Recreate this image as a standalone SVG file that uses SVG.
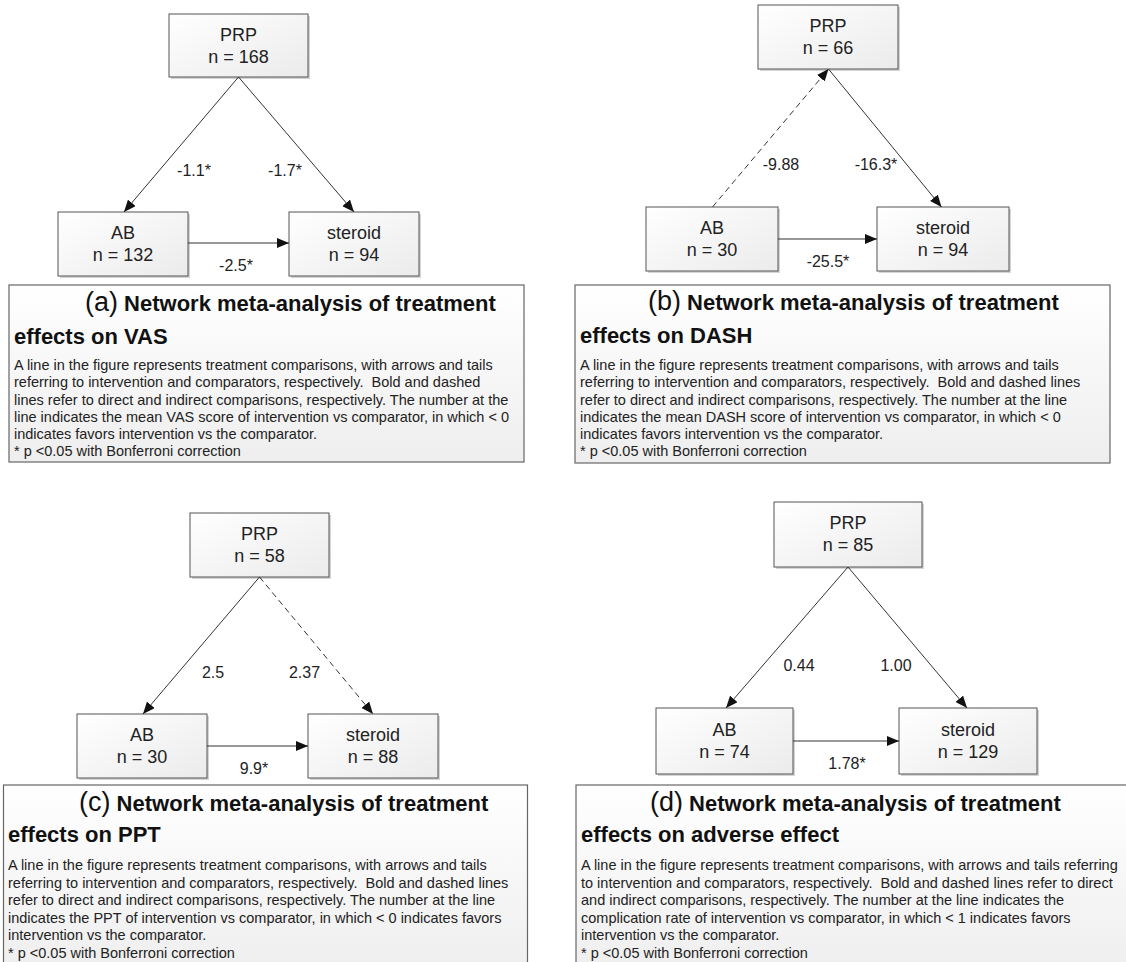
<svg xmlns="http://www.w3.org/2000/svg" width="1126" height="962" viewBox="0 0 1126 962">
<defs>
<linearGradient id="nodeFill" x1="0" y1="0" x2="1" y2="1">
<stop offset="0" stop-color="#ffffff"/>
<stop offset="1" stop-color="#ebebeb"/>
</linearGradient>
<linearGradient id="capFill" x1="0" y1="0" x2="0" y2="1">
<stop offset="0" stop-color="#ffffff"/>
<stop offset="1" stop-color="#eeeeee"/>
</linearGradient>
<marker id="arr" viewBox="0 0 12 10" refX="12" refY="5" markerWidth="12" markerHeight="10" markerUnits="userSpaceOnUse" orient="auto">
<path d="M0,0 L12,5 L0,10 Z" fill="#111"/>
</marker>
</defs>
<style>
.bg{fill:#ffffff}
.shadow{fill:#d4d4d4}
.node{fill:url(#nodeFill);stroke:#555;stroke-width:1}
.cap{fill:url(#capFill);stroke:#666;stroke-width:1.2}
.nt{font-family:"Liberation Sans",Arial,sans-serif;font-size:18px;fill:#222;text-anchor:middle}
.el{font-family:"Liberation Sans",Arial,sans-serif;font-size:16px;fill:#222;text-anchor:middle}
.e{stroke:#333;stroke-width:1;fill:none;marker-end:url(#arr)}
.d{stroke-dasharray:6,4}
.lab{font-family:"Liberation Sans",Arial,sans-serif;font-size:27px;fill:#111}
.tt{font-family:"Liberation Sans",Arial,sans-serif;font-size:22px;font-weight:bold;fill:#111}
.bd{font-family:"Liberation Sans",Arial,sans-serif;font-size:14.5px;fill:#222;white-space:pre}
</style>
<rect class="bg" x="0" y="0" width="1126" height="962"/>

<!-- Panel a -->
<g id="a-PRP"><rect class="shadow" x="171" y="16" width="139" height="63"/><rect class="node" x="169" y="14" width="139" height="63"/><text class="nt" x="238.5" y="41">PRP</text><text class="nt" x="238.5" y="63">n = 168</text></g>
<g id="a-AB"><rect class="shadow" x="60" y="214" width="130" height="64"/><rect class="node" x="58" y="212" width="130" height="64"/><text class="nt" x="123" y="239">AB</text><text class="nt" x="123" y="261">n = 132</text></g>
<g id="a-steroid"><rect class="shadow" x="291" y="214" width="130" height="64"/><rect class="node" x="289" y="212" width="130" height="64"/><text class="nt" x="354" y="239">steroid</text><text class="nt" x="354" y="261">n = 94</text></g>
<g id="a-edges">
<line class="e" x1="238.5" y1="77" x2="124" y2="212"/>
<line class="e" x1="238.5" y1="77" x2="354" y2="212"/>
<line class="e" x1="188" y1="243" x2="289" y2="243"/>
<text class="el" x="194" y="176">-1.1*</text>
<text class="el" x="285" y="176">-1.7*</text>
<text class="el" x="236" y="271">-2.5*</text>
</g>
<g id="a-caption">
<rect class="cap" x="9" y="285" width="515" height="177"/>
<text x="85" y="311"><tspan class="lab">(a)</tspan><tspan class="tt"> Network meta-analysis of treatment</tspan></text>
<text class="tt" x="14" y="344">effects on VAS</text>
<text class="bd" x="14" y="370">A line in the figure represents treatment comparisons, with arrows and tails</text>
<text class="bd" x="14" y="387.3">referring to intervention and comparators, respectively.  Bold and dashed</text>
<text class="bd" x="14" y="404.6">lines refer to direct and indirect comparisons, respectively. The number at the</text>
<text class="bd" x="14" y="421.9">line indicates the mean VAS score of intervention vs comparator, in which &lt; 0</text>
<text class="bd" x="14" y="439.2">indicates favors intervention vs the comparator.</text>
<text class="bd" x="14" y="456">* p &lt;0.05 with Bonferroni correction</text>
</g>

<!-- Panel b -->
<g id="b-PRP"><rect class="shadow" x="760" y="7" width="140" height="64"/><rect class="node" x="758" y="5" width="140" height="64"/><text class="nt" x="828" y="32">PRP</text><text class="nt" x="828" y="54">n = 66</text></g>
<g id="b-AB"><rect class="shadow" x="648" y="209" width="132" height="64"/><rect class="node" x="646" y="207" width="132" height="64"/><text class="nt" x="712" y="234">AB</text><text class="nt" x="712" y="256">n = 30</text></g>
<g id="b-steroid"><rect class="shadow" x="879" y="209" width="132" height="64"/><rect class="node" x="877" y="207" width="132" height="64"/><text class="nt" x="943" y="234">steroid</text><text class="nt" x="943" y="256">n = 94</text></g>
<g id="b-edges">
<line class="e d" x1="712.5" y1="207" x2="828.5" y2="69"/>
<line class="e" x1="828.5" y1="69" x2="941.5" y2="207"/>
<line class="e" x1="778" y1="239" x2="877" y2="239"/>
<text class="el" x="781" y="170">-9.88</text>
<text class="el" x="876" y="170">-16.3*</text>
<text class="el" x="828" y="267">-25.5*</text>
</g>
<g id="b-caption">
<rect class="cap" x="575" y="285" width="535" height="178"/>
<text x="648" y="310"><tspan class="lab">(b)</tspan><tspan class="tt"> Network meta-analysis of treatment</tspan></text>
<text class="tt" x="580" y="343">effects on DASH</text>
<text class="bd" x="580" y="370">A line in the figure represents treatment comparisons, with arrows and tails</text>
<text class="bd" x="580" y="387.3">referring to intervention and comparators, respectively.  Bold and dashed lines</text>
<text class="bd" x="580" y="404.6">refer to direct and indirect comparisons, respectively. The number at the line</text>
<text class="bd" x="580" y="421.9">indicates the mean DASH score of intervention vs comparator, in which &lt; 0</text>
<text class="bd" x="580" y="439.2">indicates favors intervention vs the comparator.</text>
<text class="bd" x="580" y="456">* p &lt;0.05 with Bonferroni correction</text>
</g>

<!-- Panel c -->
<g id="c-PRP"><rect class="shadow" x="192" y="515" width="139" height="64"/><rect class="node" x="190" y="513" width="139" height="64"/><text class="nt" x="259.5" y="540">PRP</text><text class="nt" x="259.5" y="562">n = 58</text></g>
<g id="c-AB"><rect class="shadow" x="79" y="716" width="130" height="64"/><rect class="node" x="77" y="714" width="130" height="64"/><text class="nt" x="142" y="741">AB</text><text class="nt" x="142" y="763">n = 30</text></g>
<g id="c-steroid"><rect class="shadow" x="310" y="716" width="130" height="64"/><rect class="node" x="308" y="714" width="130" height="64"/><text class="nt" x="373" y="741">steroid</text><text class="nt" x="373" y="763">n = 88</text></g>
<g id="c-edges">
<line class="e" x1="259.5" y1="577" x2="143" y2="714"/>
<line class="e d" x1="259.5" y1="577" x2="373" y2="714"/>
<line class="e" x1="207" y1="746" x2="308" y2="746"/>
<text class="el" x="213" y="677.5">2.5</text>
<text class="el" x="304.5" y="677.5">2.37</text>
<text class="el" x="254" y="773.5">9.9*</text>
</g>
<g id="c-caption">
<rect class="cap" x="3.5" y="785" width="524" height="190"/>
<text x="79" y="811"><tspan class="lab">(c)</tspan><tspan class="tt"> Network meta-analysis of treatment</tspan></text>
<text class="tt" x="8" y="842">effects on PPT</text>
<text class="bd" x="8" y="870">A line in the figure represents treatment comparisons, with arrows and tails</text>
<text class="bd" x="8" y="887.5">referring to intervention and comparators, respectively.  Bold and dashed lines</text>
<text class="bd" x="8" y="905">refer to direct and indirect comparisons, respectively. The number at the line</text>
<text class="bd" x="8" y="922.5">indicates the PPT of intervention vs comparator, in which &lt; 0 indicates favors</text>
<text class="bd" x="8" y="940">intervention vs the comparator.</text>
<text class="bd" x="8" y="957.5">* p &lt;0.05 with Bonferroni correction</text>
</g>

<!-- Panel d -->
<g id="d-PRP"><rect class="shadow" x="776" y="504" width="148" height="65"/><rect class="node" x="774" y="502" width="148" height="65"/><text class="nt" x="848" y="529">PRP</text><text class="nt" x="848" y="551">n = 85</text></g>
<g id="d-AB"><rect class="shadow" x="658" y="710" width="137" height="66"/><rect class="node" x="656" y="708" width="137" height="66"/><text class="nt" x="724.5" y="736">AB</text><text class="nt" x="724.5" y="758">n = 74</text></g>
<g id="d-steroid"><rect class="shadow" x="901" y="710" width="138" height="66"/><rect class="node" x="899" y="708" width="138" height="66"/><text class="nt" x="968" y="736">steroid</text><text class="nt" x="968" y="758">n = 129</text></g>
<g id="d-edges">
<line class="e" x1="848" y1="567" x2="726" y2="708"/>
<line class="e" x1="848" y1="567" x2="967" y2="708"/>
<line class="e" x1="793" y1="741" x2="899" y2="741"/>
<text class="el" x="799" y="671">0.44</text>
<text class="el" x="896" y="671">1.00</text>
<text class="el" x="847" y="768.5">1.78*</text>
</g>
<g id="d-caption">
<rect class="cap" x="576" y="785" width="560" height="190"/>
<text x="650" y="811"><tspan class="lab">(d)</tspan><tspan class="tt"> Network meta-analysis of treatment</tspan></text>
<text class="tt" x="581" y="842">effects on adverse effect</text>
<text class="bd" x="581" y="870">A line in the figure represents treatment comparisons, with arrows and tails referring</text>
<text class="bd" x="581" y="887.5">to intervention and comparators, respectively.  Bold and dashed lines refer to direct</text>
<text class="bd" x="581" y="905">and indirect comparisons, respectively. The number at the line indicates the</text>
<text class="bd" x="581" y="922.5">complication rate of intervention vs comparator, in which &lt; 1 indicates favors</text>
<text class="bd" x="581" y="940">intervention vs the comparator.</text>
<text class="bd" x="581" y="957.5">* p &lt;0.05 with Bonferroni correction</text>
</g>
</svg>
